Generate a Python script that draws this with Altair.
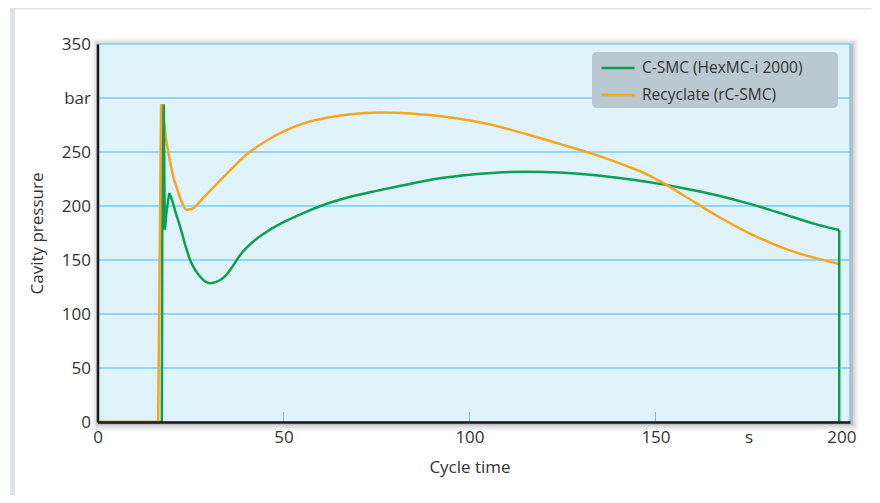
import altair as alt
import pandas as pd

# ---- data ----
series_names = ["C-SMC (HexMC-i 2000)", "Recyclate (rC-SMC)"]
series_colors = ["#0aa04f", "#f7a51e"]

csmc_time = [0, 17.3, 17.5, 17.8, 18.1, 18.6, 19.3, 20, 21, 22.2, 23.5, 24.9, 26.2, 27.6, 29,
             30.3, 31.5, 33, 34.7, 36.5, 38.3, 41, 45, 50, 55, 60, 68, 75, 82, 90, 97.4, 107,
             115.4, 124.3, 133.3, 142.3, 148.5, 151.2, 157.5, 166.5, 175.4, 184.4, 193.3,
             199.4, 199.4]
csmc_pressure = [0, 0, 293, 293, 178, 196, 212, 206, 194, 181, 165, 150, 141, 134.5, 130,
                 128.5, 129.3, 131.5, 136.5, 145, 154.5, 164.5, 175, 185, 193, 200, 208.5,
                 214, 219, 224.5, 228, 230.8, 231.8, 231, 228.6, 225, 222, 220.5, 216.5, 210,
                 202, 192.5, 183, 177.8, 0]
# which points belong to sharp (straight) segments: start index, end index (inclusive)
csmc_sharp = [(0, 6), (43, 44)]

rcsmc_time = [0, 16.3, 17.1, 17.5, 18.3, 19.3, 20.3, 21.3, 22.5, 23.9, 25.5, 27.5, 30, 32.1,
              34.5, 36.5, 40, 45, 50, 55, 60, 68, 76, 85, 95, 105, 115.4, 124.3, 133.3,
              142.3, 148.5, 151.2, 157.5, 166.5, 175.4, 184.4, 193.3, 199.2]
rcsmc_pressure = [0, 0, 293, 293, 265, 245, 228, 217, 205, 196.5, 197.5, 204, 213, 220.5,
                  229, 236, 247.5, 259.5, 269, 276, 280.5, 285, 286.5, 285.5, 282, 276, 266.5,
                  257.5, 248, 237, 228, 223, 210, 191, 174.5, 161, 151.5, 146.6]
rcsmc_sharp = [(0, 3)]

y_ticks = [0, 50, 100, 150, 200, 250, 300, 350]
y_grid = [50, 100, 150, 200, 250, 300]
x_labels = [0, 50, 100, 150, 175, 200]
x_marks = [50, 100, 150]


def build(name, ts, ps, sharp):
    sharp_rows, smooth_rows = [], []
    for k, (a, b) in enumerate(sharp):
        for i in range(a, b + 1):
            sharp_rows.append({"t": ts[i], "p": ps[i], "s": name, "i": i, "seg": f"{name}-{k}"})
    first = sharp[0][1]
    last = sharp[1][0] if len(sharp) > 1 else len(ts) - 1
    for i in range(first, last + 1):
        smooth_rows.append({"t": ts[i], "p": ps[i], "s": name, "i": i, "seg": name})
    return sharp_rows, smooth_rows


a1, b1 = build(series_names[0], csmc_time, csmc_pressure, csmc_sharp)
a2, b2 = build(series_names[1], rcsmc_time, rcsmc_pressure, rcsmc_sharp)
df_sharp = pd.DataFrame(a1 + a2)
df_smooth = pd.DataFrame(b1 + b2)

W, H = 752.5, 378
FONT = "Open Sans"
TXT = "#333333"

xscale = alt.Scale(domain=[0, 202.3], nice=False, zero=False)
yscale = alt.Scale(domain=[0, 350], nice=False)

xaxis = alt.Axis(values=x_labels, grid=False, ticks=False, domainColor="#1a1a1a",
                 domainWidth=2.5, labelExpr="datum.value == 175 ? 's' : datum.label",
                 labelFont=FONT, labelFontSize=17, labelColor=TXT, labelPadding=7,
                 titleFont=FONT, titleFontSize=17, titleFontWeight="normal",
                 titleColor=TXT, titleX=372, titleY=45, titleBaseline="middle",
                 labelFlush=False, zindex=1)
yaxis = alt.Axis(values=y_ticks, grid=False, ticks=False, domainColor="#1a1a1a",
                 domainWidth=2.5, labelExpr="datum.value == 300 ? 'bar' : datum.label",
                 labelFont=FONT, labelFontSize=17, labelColor=TXT, labelPadding=7,
                 titleFont=FONT, titleFontSize=17, titleFontWeight="normal",
                 titleColor=TXT, titleX=-60, titleBaseline="middle",
                 labelFlush=False, zindex=1)
XT = "Cycle time"
YT = "Cavity pressure"

one = alt.Data(values=[{"a": 1}])

frame_left = alt.Chart(one).mark_rect(color="#dde3e9").encode(
    x=alt.value(-87.5), x2=alt.value(-82.5), y=alt.value(-36), y2=alt.value(451))
frame_top = alt.Chart(one).mark_rect(color="#dde3e9").encode(
    x=alt.value(-87.5), x2=alt.value(774), y=alt.value(-36), y2=alt.value(-34.5))

shadows = []
for d, op in [(7, 0.04), (5, 0.06), (3, 0.08), (1.5, 0.1)]:
    shadows.append(alt.Chart(one).mark_rect(color="#000000", opacity=op).encode(
        x=alt.value(-d + 1.5), x2=alt.value(W + d + 1.5), y=alt.value(-d + 1.5),
        y2=alt.value(H + d + 1.5)))

bg = alt.Chart(one).mark_rect(fill="#e1f3fa", stroke="#7ed3f4", strokeWidth=1.5).encode(
    x=alt.value(0), x2=alt.value(W), y=alt.value(0), y2=alt.value(H))

grid = alt.Chart(pd.DataFrame({"g": y_grid})).mark_rule(color="#8ed8f6", strokeWidth=2).encode(
    y=alt.Y("g:Q", scale=yscale, axis=yaxis, title=YT), x=alt.value(0), x2=alt.value(W))

xt = alt.Chart(pd.DataFrame({"v": x_marks})).mark_rule(color="#5cc6ee", strokeWidth=1).encode(
    x=alt.X("v:Q", scale=xscale, axis=xaxis, title=XT), y=alt.value(H), y2=alt.value(H - 10))

legend_box = alt.Chart(one).mark_rect(fill="#b9c8d1", cornerRadius=5).encode(
    x=alt.value(494.5), x2=alt.value(740.5), y=alt.value(8), y2=alt.value(64))

color = alt.Color("s:N", scale=alt.Scale(domain=series_names, range=series_colors),
                  legend=alt.Legend(title=None, orient="none", legendX=502.5, legendY=6,
                                    symbolType="stroke", symbolSize=1089,
                                    symbolStrokeWidth=2.5, labelFont=FONT,
                                    labelFontSize=15.5, labelColor=TXT, labelOffset=6,
                                    labelLimit=400, rowPadding=-12, padding=0))

smooth = alt.Chart(df_smooth).mark_line(strokeWidth=2.5, interpolate="monotone").encode(
    x=alt.X("t:Q", scale=xscale, axis=xaxis, title=XT),
    y=alt.Y("p:Q", scale=yscale, axis=yaxis, title=YT),
    color=color, detail="seg:N", order=alt.Order("i:Q"))

sharp = alt.Chart(df_sharp).mark_line(strokeWidth=2.5).encode(
    x=alt.X("t:Q", scale=xscale, axis=xaxis, title=XT),
    y=alt.Y("p:Q", scale=yscale, axis=yaxis, title=YT),
    color=color, detail="seg:N", order=alt.Order("i:Q"))

chart = alt.layer(frame_left, frame_top, *shadows, bg, grid, xt, legend_box, smooth, sharp).properties(
    width=W, height=H,
    padding={"left": 89.5, "top": 36, "right": 22, "bottom": 73},
    autosize=alt.AutoSizeParams(type="none"),
).configure_view(stroke=None).configure(background="white")

chart.save("out.html", embed_options={"renderer": "svg", "actions": False})
